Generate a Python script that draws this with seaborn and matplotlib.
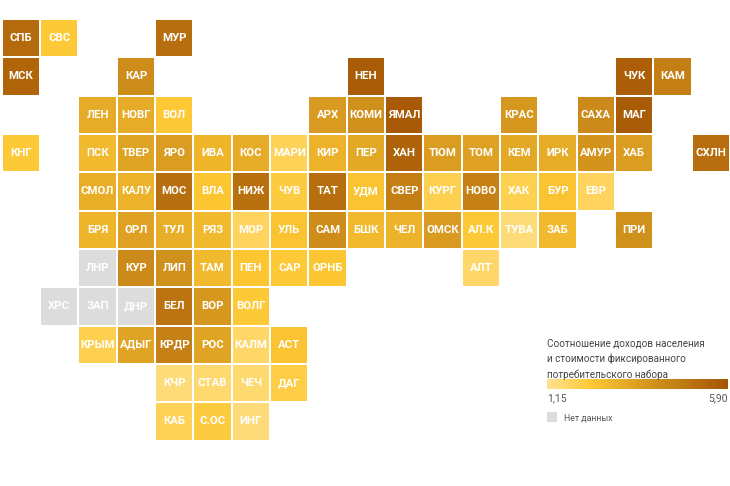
import numpy as np
import pandas as pd
import seaborn as sns
import matplotlib.pyplot as plt
from matplotlib.colors import LinearSegmentedColormap, ListedColormap

# ================== DATA ==================
grid_rows = [
    ["СПБ", "СВС", "", "", "МУР"],
    ["МСК", "", "", "КАР", "", "", "", "", "", "НЕН", "", "", "", "", "", "", "ЧУК", "КАМ"],
    ["", "", "ЛЕН", "НОВГ", "ВОЛ", "", "", "", "АРХ", "КОМИ", "ЯМАЛ", "", "", "КРАС", "", "САХА", "МАГ"],
    ["КНГ", "", "ПСК", "ТВЕР", "ЯРО", "ИВА", "КОС", "МАРИ", "КИР", "ПЕР", "ХАН", "ТЮМ", "ТОМ", "КЕМ", "ИРК", "АМУР", "ХАБ", "", "СХЛН"],
    ["", "", "СМОЛ", "КАЛУ", "МОС", "ВЛА", "НИЖ", "ЧУВ", "ТАТ", "УДМ", "СВЕР", "КУРГ", "НОВО", "ХАК", "БУР", "ЕВР"],
    ["", "", "БРЯ", "ОРЛ", "ТУЛ", "РЯЗ", "МОР", "УЛЬ", "САМ", "БШК", "ЧЕЛ", "ОМСК", "АЛ.К", "ТУВА", "ЗАБ", "", "ПРИ"],
    ["", "", "ЛНР", "КУР", "ЛИП", "ТАМ", "ПЕН", "САР", "ОРНБ", "", "", "", "АЛТ"],
    ["", "ХРС", "ЗАП", "ДНР", "БЕЛ", "ВОР", "ВОЛГ"],
    ["", "", "КРЫМ", "АДЫГ", "КРДР", "РОС", "КАЛМ", "АСТ"],
    ["", "", "", "", "КЧР", "СТАВ", "ЧЕЧ", "ДАГ"],
    ["", "", "", "", "КАБ", "С.ОС", "ИНГ"],
]

region_values = {
    "СПБ": 5.2, "СВС": 2.3, "МУР": 5.1, "МСК": 5.4, "КАР": 4.1, "НЕН": 5.7, "ЧУК": 5.6, "КАМ": 4.6,
    "ЛЕН": 3.2, "НОВГ": 3.2, "ВОЛ": 2.3, "АРХ": 3.7, "КОМИ": 4.0, "ЯМАЛ": 5.8, "КРАС": 3.8, "САХА": 4.2, "МАГ": 5.7,
    "КНГ": 2.3, "ПСК": 2.8, "ТВЕР": 3.4, "ЯРО": 3.6, "ИВА": 2.9, "КОС": 3.2, "МАРИ": 1.9, "КИР": 3.0, "ПЕР": 3.3,
    "ХАН": 5.5, "ТЮМ": 3.6, "ТОМ": 3.5, "КЕМ": 3.3, "ИРК": 3.2, "АМУР": 3.9, "ХАБ": 3.6, "СХЛН": 5.1,
    "СМОЛ": 3.1, "КАЛУ": 3.0, "МОС": 5.1, "ВЛА": 2.4, "НИЖ": 5.0, "ЧУВ": 2.2, "ТАТ": 5.1, "УДМ": 2.5, "СВЕР": 4.6,
    "КУРГ": 2.0, "НОВО": 4.5, "ХАК": 2.0, "БУР": 2.5, "ЕВР": 1.8,
    "БРЯ": 2.9, "ОРЛ": 3.5, "ТУЛ": 3.1, "РЯЗ": 2.8, "МОР": 1.8, "УЛЬ": 2.5, "САМ": 4.1, "БШК": 2.8, "ЧЕЛ": 3.0,
    "ОМСК": 3.7, "АЛ.К": 2.3, "ТУВА": 1.5, "ЗАБ": 2.8, "ПРИ": 4.0,
    "КУР": 4.2, "ЛИП": 4.0, "ТАМ": 2.8, "ПЕН": 2.4, "САР": 2.3, "ОРНБ": 2.4, "АЛТ": 1.7,
    "БЕЛ": 4.9, "ВОР": 3.8, "ВОЛГ": 2.3,
    "КРЫМ": 2.0, "АДЫГ": 3.4, "КРДР": 4.5, "РОС": 3.4, "КАЛМ": 1.7, "АСТ": 2.5,
    "КЧР": 1.5, "СТАВ": 1.6, "ЧЕЧ": 1.6, "ДАГ": 2.1,
    "КАБ": 1.9, "С.ОС": 2.2, "ИНГ": 1.5,
}

no_data = ["ЛНР", "ХРС", "ЗАП", "ДНР"]

scale_min = 1.15
scale_max = 5.90
scale_labels = ["1,15", "5,90"]
legend_title = "Соотношение доходов населения\nи стоимости фиксированного\nпотребительского набора"
no_data_label = "Нет данных"

# ================== TABLES ==================
labels = pd.DataFrame(grid_rows).reindex(columns=range(19)).fillna("")
values = labels.map(lambda c: region_values.get(c, np.nan))
gray = labels.map(lambda c: 1.0 if c in no_data else np.nan)

# ================== PLOT ==================
sns.set_theme(style="white")
plt.rcParams["font.family"] = ["Roboto", "DejaVu Sans"]

cmap = LinearSegmentedColormap.from_list(
    "income", [(0, "#ffe394"), (0.25, "#fdc833"), (0.6, "#d0901c"), (1, "#a55604")]
)

fig = plt.figure(figsize=(7.3, 4.86), dpi=100)
W, H = 730, 486
ax = fig.add_axes([1.8 / W, 1 - 440.5 / H, 728.3 / W, 421.6 / H])
cax = fig.add_axes([547 / W, 1 - 389 / H, 181 / W, 10 / H])

text_kws = {"color": "white", "fontsize": 8.2, "fontweight": "bold"}

sns.heatmap(
    values, ax=ax, cmap=cmap, vmin=scale_min, vmax=scale_max,
    annot=labels, fmt="", annot_kws=text_kws,
    linewidths=1.2, linecolor="white", square=False,
    cbar_ax=cax, cbar_kws={"orientation": "horizontal", "ticks": [scale_min, scale_max]},
)
sns.heatmap(
    gray, ax=ax, cmap=ListedColormap(["#dcdcdc"]), cbar=False,
    annot=labels, fmt="", annot_kws=text_kws,
    linewidths=1.2, linecolor="white",
)
ax.set_xticks([])
ax.set_yticks([])
ax.set_xlabel("")
ax.set_ylabel("")

# colorbar as legend
cbar = ax.collections[0].colorbar
cbar.outline.set_visible(False)
cbar.solids.set_edgecolor("face")
cax.set_xticklabels(scale_labels, fontsize=7.5, color="#555555")
cax.tick_params(axis="x", length=0, pad=3)
tick_texts = cax.get_xticklabels()
tick_texts[0].set_ha("left")
tick_texts[1].set_ha("right")

fig.text(547 / W, 1 - 338.5 / H, legend_title, fontsize=7.1, color="#444444",
         va="top", ha="left", linespacing=1.6)

# no data swatch
swatch = fig.add_axes([547 / W, 1 - 422 / H, 10 / W, 10 / H])
swatch.set_facecolor("#dcdcdc")
swatch.set_xticks([])
swatch.set_yticks([])
for s in swatch.spines.values():
    s.set_visible(False)
fig.text(564 / W, 1 - 418 / H, no_data_label, fontsize=6.3, color="#555555",
         va="center", ha="left")

fig.savefig("out.png", dpi=100)
